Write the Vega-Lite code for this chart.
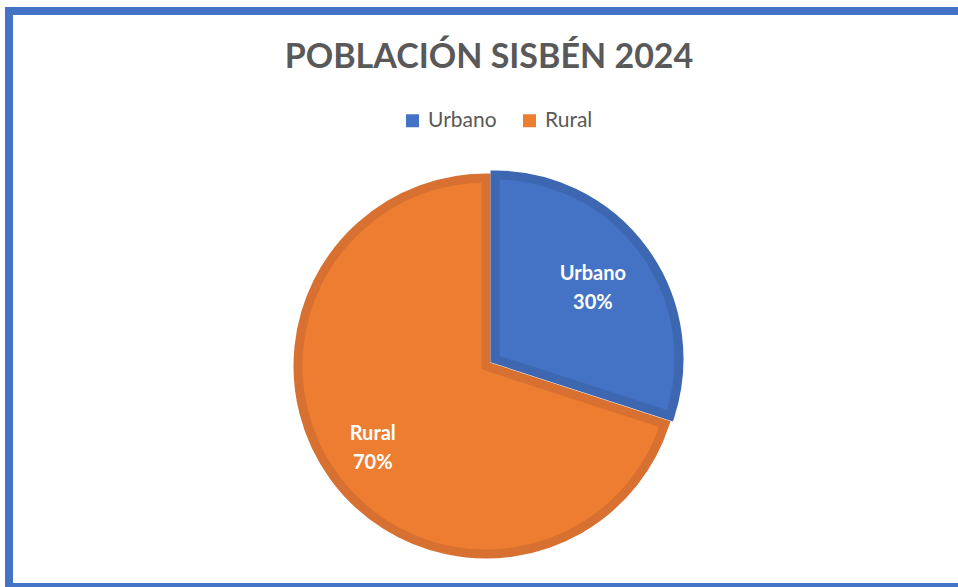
{
  "$schema": "https://vega.github.io/schema/vega-lite/v6.json",
  "autosize": {"type": "none"},
  "padding": {"left": 9, "top": 11, "right": -11, "bottom": 0},
  "width": 960,
  "height": 576,
  "background": "white",
  "view": {"stroke": "#4472C4", "strokeWidth": 8, "fill": null},
  "config": {"view": {"stroke": "#4472C4", "strokeWidth": 8}, "font": "Lato"},
  "title": {
    "text": "POBLACIÓN SISBÉN 2024",
    "fontSize": 34,
    "font": "Lato",
    "fontWeight": "bold",
    "color": "#595959",
    "anchor": "middle",
    "frame": "group",
    "offset": -64
  },
  "data": {
    "values": [
      {"cat": "Urbano", "valor": 0.30, "orden": 1},
      {"cat": "Rural", "valor": 0.70, "orden": 2}
    ]
  },
  "layer": [
    {
      "mark": {"type": "arc", "radius": 188, "strokeWidth": 9, "xOffset": -3, "yOffset": 67},
      "encoding": {
        "theta": {"field": "valor", "type": "quantitative", "stack": true},
        "order": {"field": "orden", "type": "quantitative"},
        "color": {
          "field": "cat",
          "type": "nominal",
          "scale": {"domain": ["Urbano", "Rural"], "range": ["#4472C4", "#ED7D31"]},
          "legend": {
            "orient": "none",
            "legendX": 393,
            "legendY": 99,
            "direction": "horizontal",
            "title": null,
            "symbolType": "square",
            "symbolSize": 169,
            "symbolStrokeWidth": 0,
            "labelFontSize": 21,
            "labelFont": "Lato",
            "labelColor": "#595959",
            "labelOffset": 5,
            "columnPadding": 22
          }
        },
        "stroke": {"condition": {"test": "datum.cat === 'Urbano'", "value": "#3D67B1"}, "value": "#D77030"},
        "opacity": {"condition": {"test": "datum.cat === 'Rural'", "value": 1}, "value": 0}
      }
    },
    {
      "mark": {"type": "arc", "radius": 184, "strokeWidth": 9, "xOffset": 6, "yOffset": 60},
      "encoding": {
        "theta": {"field": "valor", "type": "quantitative", "stack": true},
        "order": {"field": "orden", "type": "quantitative"},
        "color": {"field": "cat", "type": "nominal"},
        "stroke": {"condition": {"test": "datum.cat === 'Urbano'", "value": "#3D67B1"}, "value": "#D77030"},
        "opacity": {"condition": {"test": "datum.cat === 'Urbano'", "value": 1}, "value": 0}
      }
    },
    {
      "mark": {"type": "text", "radius": 121, "xOffset": 6, "yOffset": 60, "dy": -14, "fontSize": 20, "fontWeight": "bold", "font": "Lato", "color": "white"},
      "encoding": {
        "theta": {"field": "valor", "type": "quantitative", "stack": true},
        "order": {"field": "orden", "type": "quantitative"},
        "text": {"field": "cat", "type": "nominal"},
        "opacity": {"condition": {"test": "datum.cat === 'Urbano'", "value": 1}, "value": 0}
      }
    },
    {
      "mark": {"type": "text", "radius": 121, "xOffset": 6, "yOffset": 60, "dy": 15, "fontSize": 20, "fontWeight": "bold", "font": "Lato", "color": "white"},
      "encoding": {
        "theta": {"field": "valor", "type": "quantitative", "stack": true},
        "order": {"field": "orden", "type": "quantitative"},
        "text": {"field": "valor", "type": "quantitative", "format": ".0%"},
        "opacity": {"condition": {"test": "datum.cat === 'Urbano'", "value": 1}, "value": 0}
      }
    },
    {
      "mark": {"type": "text", "radius": 140, "xOffset": -3, "yOffset": 67, "dy": -14, "fontSize": 20, "fontWeight": "bold", "font": "Lato", "color": "white"},
      "encoding": {
        "theta": {"field": "valor", "type": "quantitative", "stack": true},
        "order": {"field": "orden", "type": "quantitative"},
        "text": {"field": "cat", "type": "nominal"},
        "opacity": {"condition": {"test": "datum.cat === 'Rural'", "value": 1}, "value": 0}
      }
    },
    {
      "mark": {"type": "text", "radius": 140, "xOffset": -3, "yOffset": 67, "dy": 15, "fontSize": 20, "fontWeight": "bold", "font": "Lato", "color": "white"},
      "encoding": {
        "theta": {"field": "valor", "type": "quantitative", "stack": true},
        "order": {"field": "orden", "type": "quantitative"},
        "text": {"field": "valor", "type": "quantitative", "format": ".0%"},
        "opacity": {"condition": {"test": "datum.cat === 'Rural'", "value": 1}, "value": 0}
      }
    }
  ]
}
